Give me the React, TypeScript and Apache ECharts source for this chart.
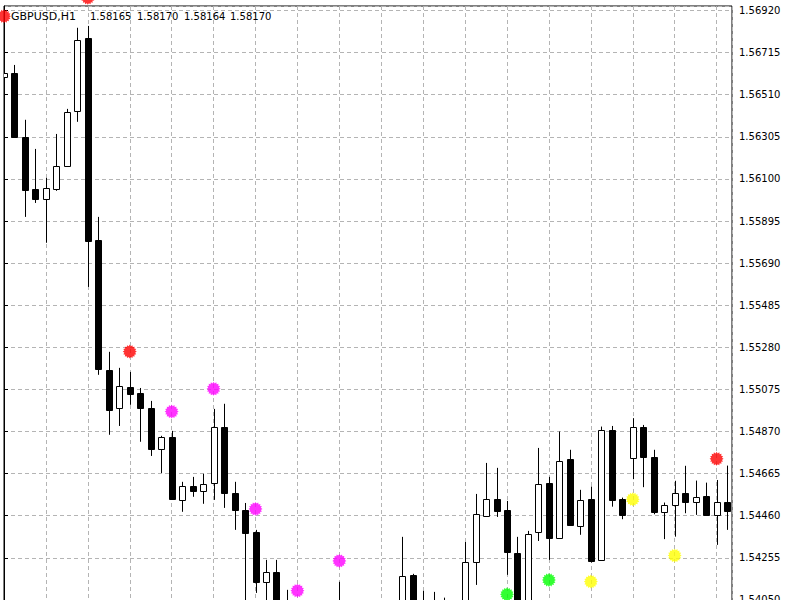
import React, { useEffect, useRef } from "react";
import * as echarts from "echarts";

// ---- Data (prices) ----
const opens = [
  1.56597, 1.56617, 1.56305, 1.56052, 1.56003, 1.56052, 1.56164, 1.56431, 1.56787, 1.55803,
  1.55170, 1.54985, 1.55087, 1.55058, 1.54985, 1.54785, 1.54844, 1.54537, 1.54605, 1.54581,
  1.54620, 1.54893, 1.54571, 1.54488, 1.54381, 1.54138, 1.54186, 1.53977, 1.53930, 1.53880,
  1.53900, 1.53940, 1.53960, 1.54010, 1.53950, 1.53920, 1.53960, 1.53990, 1.54001, 1.54172,
  1.53977, 1.53990, 1.54020, 1.53980, 1.53953, 1.54233, 1.54459, 1.54542, 1.54488, 1.54279,
  1.53977, 1.54379, 1.54620, 1.54352, 1.54735, 1.54410, 1.54540, 1.54245, 1.54878, 1.54540,
  1.54740, 1.54894, 1.54748, 1.54480, 1.54513, 1.54570, 1.54526, 1.54558, 1.54461, 1.54526,
];
const closes = [
  1.56617, 1.56305, 1.56047, 1.56003, 1.56056, 1.56164, 1.56427, 1.56777, 1.55798, 1.55175,
  1.54975, 1.55092, 1.55053, 1.54985, 1.54785, 1.54844, 1.54542, 1.54605, 1.54581, 1.54615,
  1.54893, 1.54571, 1.54488, 1.54376, 1.54138, 1.54186, 1.53992, 1.53928, 1.53880, 1.53900,
  1.53940, 1.53960, 1.54010, 1.53950, 1.53920, 1.53960, 1.53990, 1.54001, 1.54167, 1.53977,
  1.53990, 1.54020, 1.53980, 1.53953, 1.54233, 1.54469, 1.54542, 1.54483, 1.54281, 1.53977,
  1.54371, 1.54615, 1.54353, 1.54728, 1.54415, 1.54537, 1.54237, 1.54875, 1.54537, 1.54461,
  1.54894, 1.54748, 1.54477, 1.54513, 1.54570, 1.54526, 1.54553, 1.54464, 1.54526, 1.54485,
];
const lows = [
  1.56582, 1.56300, 1.55915, 1.55983, 1.55789, 1.56042, 1.56159, 1.56378, 1.55574, 1.55146,
  1.54854, 1.54897, 1.55000, 1.54820, 1.54751, 1.54668, 1.54537, 1.54479, 1.54552, 1.54518,
  1.54537, 1.54498, 1.54391, 1.54001, 1.54084, 1.54011, 1.53953, 1.53904, 1.53850, 1.53820,
  1.53850, 1.53880, 1.53920, 1.53900, 1.53880, 1.53870, 1.53900, 1.53930, 1.53960, 1.53930,
  1.53900, 1.53920, 1.53940, 1.53900, 1.53930, 1.54123, 1.54454, 1.54454, 1.54172, 1.53928,
  1.53953, 1.54337, 1.54245, 1.54347, 1.54410, 1.54367, 1.54232, 1.54241, 1.54504, 1.54443,
  1.54638, 1.54599, 1.54467, 1.54346, 1.54358, 1.54472, 1.54464, 1.54464, 1.54318, 1.54391,
];
const highs = [
  1.56631, 1.56655, 1.56388, 1.56246, 1.56105, 1.56319, 1.56441, 1.56836, 1.56845, 1.55915,
  1.55258, 1.55180, 1.55160, 1.55082, 1.55019, 1.54849, 1.54873, 1.54625, 1.54649, 1.54664,
  1.54980, 1.55005, 1.54625, 1.54522, 1.54391, 1.54245, 1.54245, 1.54099, 1.54020, 1.53960,
  1.53990, 1.54010, 1.54138, 1.54030, 1.54000, 1.53990, 1.54020, 1.54035, 1.54357, 1.54177,
  1.54094, 1.54089, 1.54061, 1.54030, 1.54332, 1.54566, 1.54717, 1.54693, 1.54532, 1.54357,
  1.54386, 1.54790, 1.54649, 1.54870, 1.54781, 1.54586, 1.54602, 1.54894, 1.54897, 1.54548,
  1.54935, 1.54902, 1.54781, 1.54524, 1.54630, 1.54703, 1.54631, 1.54621, 1.54634, 1.54704,
];

const markerBars = [0, 8, 12, 16, 20, 24, 28, 32, 48, 52, 56, 60, 64, 68];
const markerPrices = [
  1.56892, 1.56982, 1.55259, 1.54967, 1.55078, 1.54493, 1.54095, 1.54240, 1.54077, 1.54147,
  1.54139, 1.54540, 1.54266, 1.54737,
];
const markerColors = [
  "#ff0000", "#ff0000", "#ff0000", "#ff00ff", "#ff00ff", "#ff00ff", "#ff00ff", "#ff00ff",
  "#00ff00", "#00ff00", "#ffff00", "#ffff00", "#ffff00", "#ff0000",
];

const titleParts = ["GBPUSD,H1", "1.58165", "1.58170", "1.58164", "1.58170"];

const Y_MIN = 1.53845;
const Y_MAX = 1.56942;
const Y_STEP = 0.00205;
const FONT = '"DejaVu Sans", sans-serif';

function starPath(): string {
  const n = 16;
  const pts: string[] = [];
  for (let k = 0; k < n * 2; k++) {
    const r = k % 2 === 0 ? 10 : 7.8;
    const a = (k * Math.PI) / n;
    const x = 10 + r * Math.cos(a);
    const y = 10 + r * Math.sin(a);
    pts.push((k === 0 ? "M" : "L") + x.toFixed(2) + " " + y.toFixed(2));
  }
  return "path://" + pts.join(" ") + " Z";
}

export default function App() {
  const ref = useRef<HTMLDivElement>(null);

  useEffect(() => {
    if (!ref.current) return;
    const chart = echarts.init(ref.current, undefined, { renderer: "svg" });

    const candleData = opens.map((o, i) => [i, o, closes[i], lows[i], highs[i]]);
    const star = starPath();
    const markerData = markerBars.map((b, i) => ({
      value: [b, markerPrices[i]],
      itemStyle: { color: markerColors[i] },
    }));

    const titleX = [11, 90, 137, 184, 230];
    const graphic = titleParts.map((t, i) => ({
      type: "text",
      x: titleX[i],
      y: 16,
      z: 100,
      style: {
        text: t,
        fill: "#000",
        font: (i === 0 ? "11px " : "10px ") + FONT,
        verticalAlign: "middle",
        textVerticalAlign: "middle",
      },
    }));

    chart.setOption({
      animation: false,
      backgroundColor: "#ffffff",
      grid: {
        left: 4,
        right: 68,
        top: 6,
        bottom: 18,
        show: true,
        borderColor: "#000",
        borderWidth: 1,
        backgroundColor: "transparent",
        outerBoundsMode: "none",
      },
      xAxis: {
        type: "value",
        min: 0,
        max: 69.47,
        interval: 4,
        axisLabel: { show: false },
        axisTick: { show: false },
        axisLine: { show: false },
        splitLine: {
          show: true,
          lineStyle: { color: "#b4b4b4", type: [4, 3], width: 1 },
        },
      },
      yAxis: {
        type: "value",
        position: "right",
        min: Y_MIN,
        max: Y_MAX,
        interval: Y_STEP,
        scale: true,
        axisLine: { show: true, lineStyle: { color: "#000", width: 1 } },
        axisTick: { show: true, length: 4, lineStyle: { color: "#000" } },
        axisLabel: {
          show: true,
          margin: 7,
          color: "#000",
          fontFamily: FONT,
          fontSize: 10,
          showMaxLabel: false,
          formatter: (v: number) => v.toFixed(5),
        },
        splitLine: {
          show: true,
          lineStyle: { color: "#b4b4b4", type: [4, 3], width: 1 },
        },
      },
      graphic,
      series: [
        {
          type: "custom",
          clip: true,
          data: candleData,
          encode: { x: 0, y: [1, 2, 3, 4] },
          renderItem: (params: any, api: any) => {
            const i = api.value(0);
            const o = api.value(1);
            const c = api.value(2);
            const l = api.value(3);
            const h = api.value(4);
            const px = api.coord([i, o])[0];
            const yo = api.coord([i, o])[1];
            const yc = api.coord([i, c])[1];
            const yl = api.coord([i, l])[1];
            const yh = api.coord([i, h])[1];
            const cx = Math.round(px) + 0.5;
            const top = Math.round(Math.min(yo, yc)) + 0.5;
            const bot = Math.round(Math.max(yo, yc)) + 0.5;
            const bull = c >= o;
            return {
              type: "group",
              children: [
                {
                  type: "line",
                  shape: { x1: cx, y1: yh, x2: cx, y2: yl },
                  style: { stroke: "#000", lineWidth: 1 },
                },
                {
                  type: "rect",
                  shape: { x: cx - 3, y: top, width: 6, height: Math.max(bot - top, 1) },
                  style: { fill: bull ? "#ffffff" : "#000000", stroke: "#000", lineWidth: 1 },
                },
              ],
            };
          },
        },
        {
          type: "scatter",
          clip: false,
          symbol: star,
          symbolSize: 14,
          data: markerData,
          z: 5,
        },
      ],
    });

    return () => chart.dispose();
  }, []);

  return (
    <div
      ref={ref}
      style={{ position: "fixed", left: 0, top: 0, width: 800, height: 660, background: "#fff" }}
    />
  );
}
